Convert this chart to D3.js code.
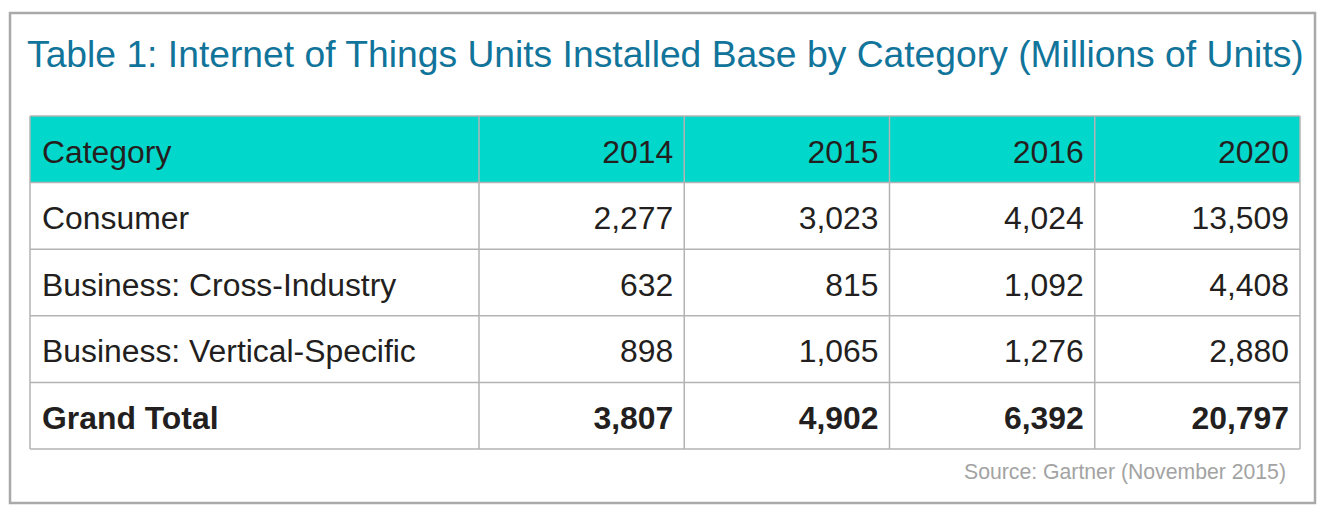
<!DOCTYPE html>
<html><head><meta charset="utf-8">
<script src="https://cdn.jsdelivr.net/npm/d3@7"></script>
<style>
html,body{margin:0;padding:0;background:#fff;}
svg{display:block;font-family:"Liberation Sans",Arial,Helvetica,sans-serif;}
</style></head>
<body>
<svg id="chart" width="1332" height="520"></svg>
<script>
const title = "Table 1: Internet of Things Units Installed Base by Category (Millions of Units)";
const headerLabel = "Category";
const years = ["2014", "2015", "2016", "2020"];
const categories = ["Consumer", "Business: Cross-Industry", "Business: Vertical-Specific"];
const consumer = [2277, 3023, 4024, 13509];
const crossIndustry = [632, 815, 1092, 4408];
const verticalSpecific = [898, 1065, 1276, 2880];
const totalLabel = "Grand Total";
const grandTotal = [3807, 4902, 6392, 20797];
const source = "Source: Gartner (November 2015)";

const seriesValues = [consumer, crossIndustry, verticalSpecific];
const rows = categories.map((c, i) => ({label: c, values: seriesValues[i], bold: false}))
  .concat([{label: totalLabel, values: grandTotal, bold: true}]);

const svg = d3.select("#chart");
const fmt = d3.format(",");

// outer frame
svg.append("rect").attr("x", 10).attr("y", 13).attr("width", 1305).attr("height", 490)
  .attr("fill", "#fff").attr("stroke", "#a9a9a9").attr("stroke-width", 2.5);

// title
const t = svg.append("text").attr("x", 27).attr("y", 67)
  .attr("fill", "#11749a").attr("font-size", 36).text(title);
const tw = t.node().getComputedTextLength();
t.attr("font-size", 36 * 1277 / tw);

const tableLeft = 30, tableRight = 1300, catRight = 479;
const tableTop = 116, tableBottom = 449;

const rowKeys = ["header"].concat(rows.map(r => r.label));
const y = d3.scaleBand().domain(rowKeys).range([tableTop, tableBottom]);
const x = d3.scaleBand().domain(years).range([catRight, tableRight]);

// header background
svg.append("rect").attr("x", tableLeft).attr("y", y("header"))
  .attr("width", tableRight - tableLeft).attr("height", y.bandwidth())
  .attr("fill", "#02d7cb");

const grid = svg.append("g").attr("stroke", "#b3b3b3").attr("stroke-width", 1.5);
const hLines = rowKeys.map(k => y(k)).concat([tableBottom]);
grid.selectAll("line.h").data(hLines).join("line")
  .attr("x1", tableLeft).attr("x2", tableRight)
  .attr("y1", d => d).attr("y2", d => d);
const vLines = [tableLeft].concat(years.map(yr => x(yr))).concat([tableRight]);
grid.selectAll("line.v").data(vLines).join("line")
  .attr("x1", d => d).attr("x2", d => d)
  .attr("y1", tableTop).attr("y2", tableBottom);

// fit body font size to reference label width
const probe = svg.append("text").attr("font-size", 30).text(categories[2]);
const fontSize = 30 * 374 / probe.node().getComputedTextLength();
probe.remove();

const textColor = "#231f20";
const padL = 12, padR = 11;
const baseOff = y.bandwidth() / 2 + fontSize * 0.42;

// header text
svg.append("text").attr("x", tableLeft + padL).attr("y", y("header") + baseOff)
  .attr("font-size", fontSize).attr("fill", textColor).text(headerLabel);
svg.selectAll("text.yr").data(years).join("text").attr("class", "yr")
  .attr("x", d => x(d) + x.bandwidth() - padR).attr("y", y("header") + baseOff)
  .attr("text-anchor", "end").attr("font-size", fontSize).attr("fill", textColor)
  .text(d => d);

// body rows
const rg = svg.selectAll("g.row").data(rows).join("g").attr("class", "row")
  .attr("font-weight", d => d.bold ? "bold" : "normal");
rg.append("text").attr("x", tableLeft + padL).attr("y", d => y(d.label) + baseOff)
  .attr("font-size", fontSize).attr("fill", textColor).text(d => d.label);
rg.selectAll("text.val").data(d => d.values.map((v, i) => ({v, yr: years[i], row: d.label})))
  .join("text").attr("class", "val")
  .attr("x", d => x(d.yr) + x.bandwidth() - padR).attr("y", d => y(d.row) + baseOff)
  .attr("text-anchor", "end").attr("font-size", fontSize).attr("fill", textColor)
  .text(d => fmt(d.v));

// source
const s = svg.append("text").attr("x", 1286).attr("y", 479).attr("text-anchor", "end")
  .attr("font-size", 20).attr("fill", "#a3a3a3").text(source);
s.attr("font-size", 20 * 322 / s.node().getComputedTextLength());
</script>
</body></html>
